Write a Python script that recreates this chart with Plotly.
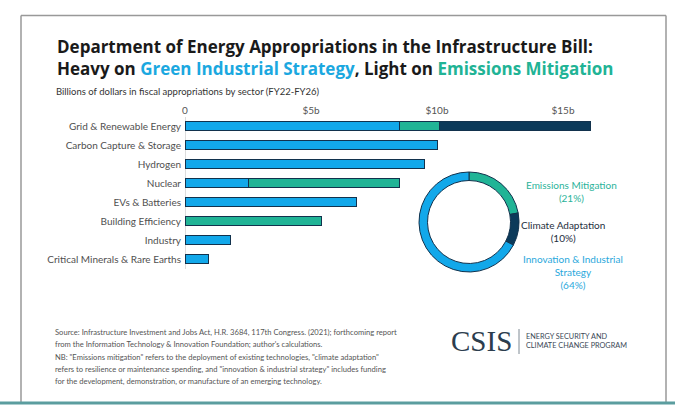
import plotly.graph_objects as go

# --- data (billions of dollars, FY22-FY26) ---
sectors = [
    "Grid & Renewable Energy",
    "Carbon Capture & Storage",
    "Hydrogen",
    "Nuclear",
    "EVs & Batteries",
    "Building Efficiency",
    "Industry",
    "Critical Minerals & Rare Earths",
]
innovation = [8.5, 10.0, 9.5, 2.5, 6.8, None, 1.8, 0.95]
mitigation = [1.6, None, None, 6.0, None, 5.4, None, None]
adaptation = [6.0, None, None, None, None, None, None, None]

share_labels = ["Emissions Mitigation", "Climate Adaptation", "Innovation & Industrial Strategy"]
share_values = [21, 10, 64]

tick_vals = [0, 5, 10, 15]
tick_text = ["0", "$5b", "$10b", "$15b"]

source_lines = [
    "Source: Infrastructure Investment and Jobs Act, H.R. 3684, 117th Congress. (2021); forthcoming report",
    "from the Information Technology & Innovation Foundation; author's calculations.",
    "NB: \"Emissions mitigation\" refers to the deployment of existing technologies, \"climate adaptation\"",
    "refers to resilience or maintenance spending, and \"innovation & industrial strategy\" includes funding",
    "for the development, demonstration, or manufacture of an emerging technology.",
]

BLUE = "#12a8ea"
GREEN = "#20b496"
NAVY = "#0c3a5a"
EDGE = "#12324d"

W, H = 675, 408


def px(x):
    return x / W


def py(y):
    return 1 - y / H


fig = go.Figure()

for name, vals, col in [("Innovation & Industrial Strategy", innovation, BLUE),
                        ("Emissions Mitigation", mitigation, GREEN),
                        ("Climate Adaptation", adaptation, NAVY)]:
    fig.add_trace(go.Bar(
        y=sectors, x=vals, orientation="h", name=name,
        marker=dict(color=col, line=dict(color=EDGE, width=1)),
        showlegend=False,
    ))

fig.add_trace(go.Pie(
    labels=share_labels, values=share_values,
    marker=dict(colors=[GREEN, NAVY, BLUE], line=dict(color=EDGE, width=1)),
    hole=0.83, sort=False, direction="clockwise", rotation=0,
    textinfo="none", showlegend=False,
    domain=dict(x=[px(419), px(519)], y=[py(272), py(172)]),
))

fig.update_layout(
    width=W, height=H,
    margin=dict(l=0, r=0, t=0, b=0, autoexpand=False),
    paper_bgcolor="white", plot_bgcolor="white",
    barmode="stack", bargap=0.48,
    font=dict(family="Lato", color="#444"),
    xaxis=dict(
        domain=[px(185), px(613.4)], range=[0, 17], automargin=False,
        side="top", tickvals=tick_vals, ticktext=tick_text,
        tickfont=dict(size=10, color="#555"),
        showgrid=False, zeroline=True, zerolinecolor="#dcdcdc", zerolinewidth=1,
        ticks="", fixedrange=True,
    ),
    yaxis=dict(
        domain=[py(268.5), py(116.5)], autorange="reversed", automargin=False,
        tickfont=dict(size=10, color="#505050"),
        showgrid=False, ticks="", ticklabelstandoff=3,
    ),
)

# title
fig.add_annotation(
    x=px(55), y=py(33), xref="paper", yref="paper", xanchor="left", yanchor="top",
    align="left", showarrow=False,
    font=dict(family="Open Sans", size=17, color="#1a1a1a"),
    text=("<b>Department of Energy Appropriations in the Infrastructure Bill:</b><br>"
          "<b>Heavy on <span style='color:#1ba8e0'>Green Industrial Strategy</span>, "
          "Light on <span style='color:#21b395'>Emissions Mitigation</span></b>"),
)
fig.add_annotation(
    x=px(54), y=py(91), xref="paper", yref="paper", xanchor="left", yanchor="middle",
    showarrow=False, font=dict(size=9.5, color="#333"),
    text="Billions of dollars in fiscal appropriations by sector (FY22-FY26)",
)

# donut labels
donut_notes = [
    (571, 191, "Emissions Mitigation<br>(21%)", "#2bb39a"),
    (563, 231, "Climate Adaptation<br>(10%)", "#1e2e3e"),
    (573, 272, "Innovation & Industrial<br>Strategy<br>(64%)", "#2aa8dc"),
]
for x, y, t, c in donut_notes:
    fig.add_annotation(
        x=px(x), y=py(y), xref="paper", yref="paper", showarrow=False,
        xanchor="center", yanchor="middle",
        align="center", font=dict(size=10, color=c), text=t,
    )

# source notes, one line each
for i, line in enumerate(source_lines):
    y = 332 + 12 * i + (0 if i < 2 else 1)
    fig.add_annotation(
        x=px(53), y=py(y), xref="paper", yref="paper", xanchor="left", yanchor="middle",
        showarrow=False, font=dict(size=7.6, color="#555"), text=line,
    )

# CSIS logo
fig.add_annotation(
    x=px(514), y=py(341), xref="paper", yref="paper", xanchor="right", yanchor="middle",
    showarrow=False, font=dict(family="Liberation Serif", size=29, color="#2c3d4e"),
    text="CSIS",
)
fig.add_annotation(
    x=px(524), y=py(341), xref="paper", yref="paper", xanchor="left", yanchor="middle",
    align="left", showarrow=False, font=dict(size=7.3, color="#3b4856"),
    text="ENERGY SECURITY AND<br>CLIMATE CHANGE PROGRAM",
)

fig.add_shape(type="line", xref="paper", yref="paper",
              x0=px(519), x1=px(519), y0=py(329), y1=py(354),
              line=dict(color="#7f8a94", width=1))
# frame: top, left, right (bottom is the teal rule)
for x0, y0, x1, y1 in [(21, 15.5, 666, 15.5), (21, 15.5, 21, 402),
                       (666, 15.5, 666, 402)]:
    fig.add_shape(type="line", xref="paper", yref="paper",
                  x0=px(x0), x1=px(x1), y0=py(y0), y1=py(y1),
                  line=dict(color="#999999", width=1.5))
fig.add_shape(type="line", xref="paper", yref="paper",
              x0=0, x1=1, y0=py(403), y1=py(403),
              line=dict(color="#5b9d9f", width=3))

# drop the default page margin so the 675x408 figure fills the window
fig.write_html("out.html", config={"displayModeBar": False},
               post_script="document.body.style.margin='0';")
